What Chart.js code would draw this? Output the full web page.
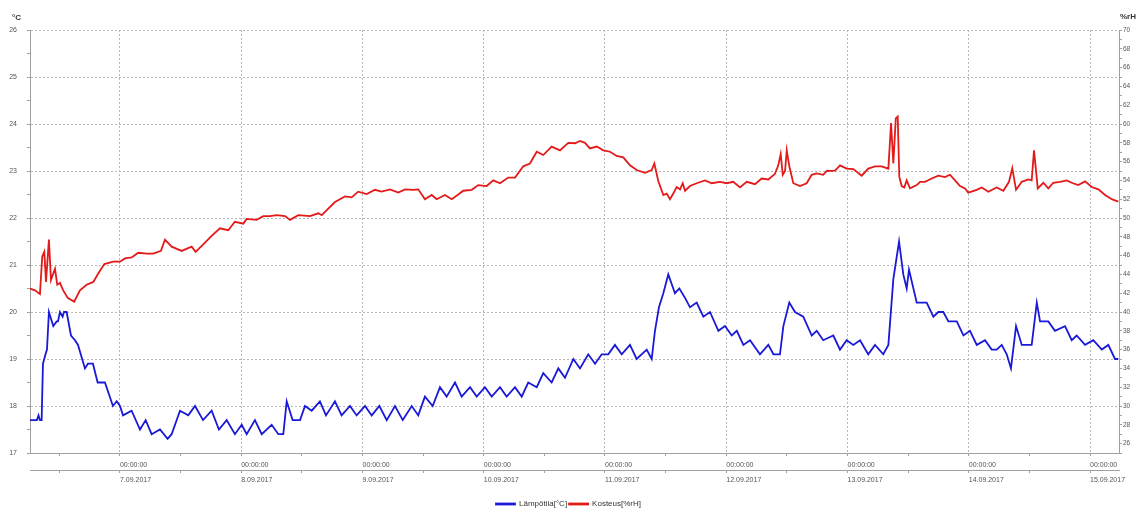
<!DOCTYPE html>
<html><head><meta charset="utf-8">
<script src="https://cdn.jsdelivr.net/npm/chart.js@4"></script>
<style>html,body{margin:0;padding:0;background:#fff;overflow:hidden}</style>
</head><body>
<canvas id="c" width="1137" height="508"></canvas>
<script>
// ---- data (x = day of September 2017, fractional) ----
const tempTime = [
 6.258,6.315,6.328,6.340,6.354,6.365,6.386,6.398,6.414,6.450,
 6.478,6.489,6.505,6.527,6.538,6.560,6.596,6.629,6.654,6.711,
 6.736,6.777,6.816,6.876,6.942,6.973,7.000,7.025,7.096,7.165,
 7.212,7.261,7.330,7.393,7.426,7.495,7.563,7.619,7.685,7.756,
 7.816,7.880,7.948,8.004,8.045,8.113,8.169,8.251,8.306,8.347,
 8.375,8.424,8.485,8.526,8.581,8.649,8.699,8.773,8.828,8.897,
 8.952,9.021,9.076,9.139,9.200,9.268,9.332,9.406,9.460,9.515,
 9.579,9.639,9.694,9.763,9.818,9.887,9.942,10.010,10.066,10.134,
 10.189,10.258,10.313,10.367,10.437,10.491,10.560,10.615,10.670,10.739,
 10.794,10.862,10.918,10.973,11.027,11.082,11.138,11.206,11.261,11.344,
 11.385,11.412,11.445,11.481,11.522,11.563,11.577,11.613,11.660,11.701,
 11.756,11.811,11.866,11.935,11.990,12.045,12.087,12.141,12.196,12.278,
 12.347,12.389,12.443,12.471,12.520,12.567,12.635,12.705,12.746,12.800,
 12.883,12.938,12.993,13.048,13.103,13.171,13.227,13.295,13.337,13.378,
 13.425,13.460,13.488,13.507,13.571,13.653,13.708,13.749,13.790,13.832,
 13.901,13.956,14.010,14.066,14.134,14.189,14.230,14.272,14.313,14.348,
 14.390,14.437,14.519,14.561,14.588,14.656,14.711,14.794,14.849,14.890,
 14.959,15.027,15.097,15.151,15.206,15.233
];
const tempValue = [
 17.7,17.7,17.8,17.7,17.7,18.9,19.1,19.2,20.0,19.7,
 19.8,19.8,20.0,19.9,20.0,20.0,19.5,19.4,19.3,18.8,
 18.9,18.9,18.5,18.5,18.0,18.1,18.0,17.8,17.9,17.5,
 17.7,17.4,17.5,17.3,17.4,17.9,17.8,18.0,17.7,17.9,
 17.5,17.7,17.4,17.6,17.4,17.7,17.4,17.6,17.4,17.4,
 18.1,17.7,17.7,18.0,17.9,18.1,17.8,18.1,17.8,18.0,
 17.8,18.0,17.8,18.0,17.7,18.0,17.7,18.0,17.8,18.2,
 18.0,18.4,18.2,18.5,18.2,18.4,18.2,18.4,18.2,18.4,
 18.2,18.4,18.2,18.5,18.4,18.7,18.5,18.8,18.6,19.0,
 18.8,19.1,18.9,19.1,19.1,19.3,19.1,19.3,19.0,19.2,
 19.0,19.6,20.1,20.4,20.8,20.5,20.4,20.5,20.3,20.1,
 20.2,19.9,20.0,19.6,19.7,19.5,19.6,19.3,19.4,19.1,
 19.3,19.1,19.1,19.7,20.2,20.0,19.9,19.5,19.6,19.4,
 19.5,19.2,19.4,19.3,19.4,19.1,19.3,19.1,19.3,20.7,
 21.5,20.8,20.5,20.9,20.2,20.2,19.9,20.0,20.0,19.8,
 19.8,19.5,19.6,19.3,19.4,19.2,19.2,19.3,19.1,18.8,
 19.7,19.3,19.3,20.2,19.8,19.8,19.6,19.7,19.4,19.5,
 19.3,19.4,19.2,19.3,19.0,19.0
];
const humTime = [
 6.258,6.299,6.340,6.359,6.376,6.390,6.414,6.431,6.464,6.483,
 6.505,6.532,6.569,6.622,6.670,6.725,6.780,6.821,6.871,6.945,
 7.000,7.041,7.096,7.151,7.220,7.274,7.338,7.371,7.426,7.509,
 7.591,7.624,7.687,7.756,7.825,7.893,7.948,8.017,8.045,8.127,
 8.182,8.237,8.292,8.361,8.402,8.471,8.567,8.636,8.664,8.718,
 8.773,8.814,8.856,8.911,8.965,9.035,9.103,9.158,9.227,9.295,
 9.351,9.419,9.460,9.515,9.571,9.612,9.680,9.736,9.790,9.831,
 9.901,9.955,10.024,10.079,10.134,10.202,10.258,10.326,10.381,10.437,
 10.491,10.560,10.629,10.697,10.753,10.794,10.835,10.876,10.932,10.986,
 11.041,11.096,11.151,11.206,11.261,11.330,11.385,11.407,11.440,11.481,
 11.509,11.536,11.563,11.591,11.619,11.641,11.660,11.701,11.756,11.825,
 11.880,11.948,12.004,12.058,12.113,12.169,12.237,12.292,12.347,12.402,
 12.429,12.449,12.466,12.485,12.499,12.520,12.553,12.608,12.663,12.705,
 12.746,12.800,12.829,12.897,12.938,12.993,13.048,13.117,13.171,13.227,
 13.282,13.337,13.359,13.378,13.398,13.414,13.427,13.447,13.468,13.488,
 13.515,13.571,13.598,13.639,13.694,13.749,13.804,13.845,13.887,13.928,
 13.969,13.996,14.065,14.107,14.161,14.230,14.285,14.332,14.359,14.390,
 14.437,14.491,14.519,14.538,14.569,14.615,14.656,14.697,14.753,14.808,
 14.849,14.903,14.959,15.014,15.069,15.124,15.179,15.233
];
const humValue = [
 42.5,42.3,41.9,45.9,46.4,43.2,47.7,43.4,44.6,42.9,
 43.1,42.3,41.5,41.1,42.3,42.9,43.2,44.1,45.1,45.35,
 45.35,45.7,45.8,46.3,46.2,46.2,46.5,47.7,46.95,46.5,
 46.95,46.4,47.2,48.1,48.9,48.7,49.6,49.4,49.9,49.8,
 50.2,50.2,50.3,50.2,49.8,50.3,50.2,50.5,50.3,51.0,
 51.7,52.0,52.3,52.2,52.8,52.55,53.0,52.8,53.05,52.7,
 53.05,53.0,53.05,52.0,52.45,52.0,52.45,52.0,52.5,52.9,
 53.0,53.5,53.4,54.0,53.7,54.3,54.3,55.5,55.8,57.05,
 56.7,57.6,57.2,58.0,57.95,58.2,58.0,57.4,57.6,57.2,
 57.05,56.6,56.45,55.6,55.1,54.8,55.1,55.8,53.9,52.45,
 52.6,52.0,52.6,53.3,53.05,53.7,52.9,53.4,53.7,54.0,
 53.7,53.85,53.7,53.85,53.25,53.85,53.6,54.2,54.1,54.7,
 55.6,56.8,54.6,55.0,57.2,55.5,53.7,53.4,53.7,54.6,
 54.75,54.6,55.0,55.05,55.6,55.25,55.2,54.5,55.25,55.5,
 55.5,55.25,60.1,55.8,60.6,60.8,54.4,53.4,53.25,54.0,
 53.15,53.5,53.85,53.85,54.2,54.5,54.35,54.6,54.0,53.4,
 53.15,52.7,53.0,53.25,52.8,53.25,52.9,53.85,55.3,53.0,
 53.85,54.1,54.0,57.2,53.15,53.75,53.15,53.75,53.85,54.0,
 53.75,53.5,53.9,53.3,53.05,52.45,52.0,51.75
];
const dayTicks = [7,8,9,10,11,12,13,14,15];
const dateLabels = ['7.09.2017','8.09.2017','9.09.2017','10.09.2017','11.09.2017','12.09.2017','13.09.2017','14.09.2017','15.09.2017'];
const timeLabel = '00:00:00';
const tempTicks = [17,18,19,20,21,22,23,24,25,26];
const humTicks = [26,28,30,32,34,36,38,40,42,44,46,48,50,52,54,56,58,60,62,64,66,68,70];
const seriesNames = ['Lämpötila[°C]','Kosteus[%rH]'];
const axisTitles = ['°C','%rH'];
const xRange = [6.258, 15.239];
const tempRange = [17, 26];
const humRange = [25, 70];

// ---- derived tick sets ----
const halfDays = [];
dayTicks.forEach(d => { halfDays.push(d - 0.5, d); });
const tempMinor = [];
for (let v = tempRange[0]; v <= tempRange[1] + 1e-9; v += 0.5) tempMinor.push(Math.round(v * 2) / 2);
const humMinor = [];
for (let v = humRange[0]; v <= humRange[1]; v++) humMinor.push(v);

const FONT = "'Liberation Sans Narrow','Liberation Sans',Arial,sans-serif";
Chart.defaults.font.family = FONT;
const gridColor = '#b8b8b8';
const axisColor = '#a0a0a0';
const textColor = '#555';
const clear = 'rgba(0,0,0,0)';
const isInt = v => Math.abs(v - Math.round(v)) < 1e-6;

const titles = {
  id: 'titles',
  afterDraw(chart) {
    const ctx = chart.ctx;
    ctx.save();
    ctx.fillStyle = '#333';
    ctx.font = 'bold 8px ' + FONT;
    ctx.textBaseline = 'middle';
    ctx.textAlign = 'left';
    ctx.fillText(axisTitles[0], 12, 18);
    ctx.fillText(axisTitles[1], 1120, 17);
    ctx.restore();
  }
};

new Chart(document.getElementById('c'), {
  type: 'line',
  data: {
    datasets: [
      {label: seriesNames[0], data: tempTime.map((t, i) => ({x: t, y: tempValue[i]})), yAxisID: 'y', xAxisID: 'x',
       borderColor: 'rgb(25,25,215)', backgroundColor: 'rgb(25,25,215)', borderWidth: 1.8, pointRadius: 0, tension: 0},
      {label: seriesNames[1], data: humTime.map((t, i) => ({x: t, y: humValue[i]})), yAxisID: 'yR', xAxisID: 'x',
       borderColor: 'rgb(228,25,25)', backgroundColor: 'rgb(228,25,25)', borderWidth: 1.8, pointRadius: 0, tension: 0}
    ]
  },
  options: {
    responsive: false,
    animation: false,
    devicePixelRatio: 1,
    layout: {padding: {top: 30, left: 0, right: 0, bottom: -10}},
    plugins: {
      tooltip: {enabled: false},
      legend: {
        position: 'bottom',
        labels: {boxWidth: 19, boxHeight: 1, padding: 2, color: '#333', font: {size: 8}}
      }
    },
    scales: {
      x: {
        type: 'linear', position: 'bottom', min: xRange[0], max: xRange[1], offset: false, weight: 0,
        afterBuildTicks: s => { s.ticks = halfDays.map(v => ({value: v})); },
        afterFit: s => { s.height = 17; },
        grid: {color: c => (c.tick && isInt(c.tick.value)) ? gridColor : clear, tickColor: axisColor, tickLength: 3, lineWidth: 1},
        border: {color: axisColor, dash: [2, 2]},
        ticks: {autoSkip: false, maxRotation: 0, align: 'start', padding: 5, color: textColor, font: {size: 7},
                callback: v => isInt(v) ? timeLabel : ''}
      },
      x2: {
        type: 'linear', position: 'bottom', min: xRange[0], max: xRange[1], offset: false, weight: 1,
        afterBuildTicks: s => { s.ticks = halfDays.map(v => ({value: v})); },
        afterFit: s => { s.height = 28; },
        grid: {drawOnChartArea: false, color: axisColor, tickColor: axisColor, tickLength: 3},
        border: {color: axisColor},
        ticks: {autoSkip: false, maxRotation: 0, align: 'start', padding: 3, color: textColor, font: {size: 7},
                callback: v => { const i = dayTicks.findIndex(d => Math.abs(d - v) < 1e-6); return i >= 0 ? dateLabels[i] : ''; }}
      },
      y: {
        type: 'linear', position: 'left', min: tempRange[0], max: tempRange[1],
        afterBuildTicks: s => { s.ticks = tempMinor.map(v => ({value: v})); },
        afterFit: s => { s.width = 30; },
        grid: {color: c => (c.tick && isInt(c.tick.value)) ? gridColor : clear, tickColor: axisColor, tickLength: 3, lineWidth: 1},
        border: {color: axisColor, dash: [2, 2]},
        ticks: {autoSkip: false, padding: 10, color: textColor, font: {size: 7},
                callback: v => tempTicks.some(t => Math.abs(t - v) < 1e-6) ? String(Math.round(v)) : ''}
      },
      yR: {
        type: 'linear', position: 'right', min: humRange[0], max: humRange[1],
        afterBuildTicks: s => { s.ticks = humMinor.map(v => ({value: v})); },
        afterFit: s => { s.width = 18; },
        grid: {drawOnChartArea: false, color: axisColor, tickColor: axisColor, tickLength: 3},
        border: {color: axisColor},
        ticks: {autoSkip: false, padding: 1, color: textColor, font: {size: 6.5},
                callback: v => humTicks.includes(v) ? String(v) : ''}
      }
    }
  },
  plugins: [titles]
});
</script>
</body></html>
